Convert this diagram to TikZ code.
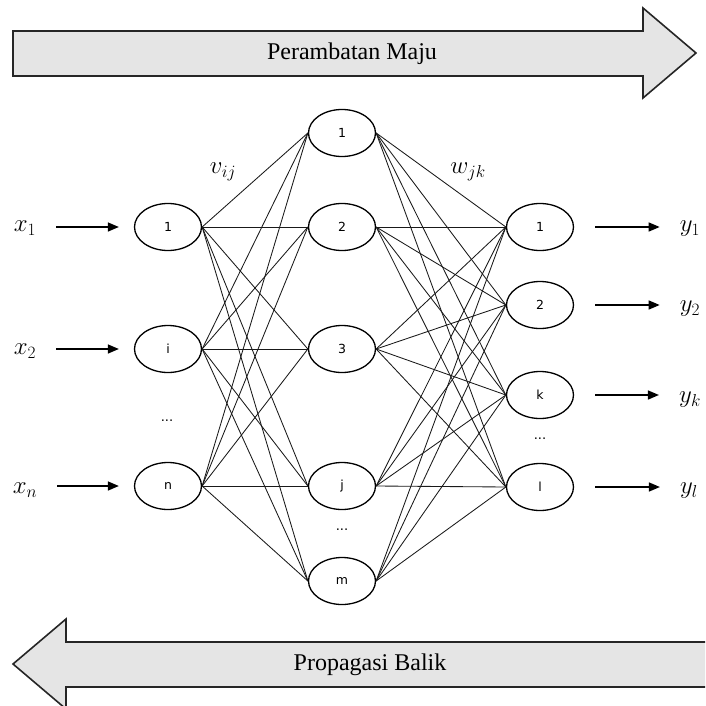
\documentclass[tikz,border=0pt]{standalone}
\usepackage{fontspec}
\setmainfont{Liberation Serif}
\newfontfamily\unitfont{DejaVu Sans}
\usetikzlibrary{shapes,arrows.meta,positioning}

\tikzset{
  unit/.style={draw, ellipse, line width=1.3pt, minimum width=67pt, minimum height=47pt, inner sep=0pt, font=\unitfont\fontsize{12.5}{14}\selectfont},
  link/.style={line width=0.85pt, black!90},
  inarrow/.style={-{Triangle[length=11pt,width=9pt]}, line width=1.5pt},
  bigarrow/.style={draw=black!85, fill=black!10, line width=1.6pt, line join=miter},
  bigtext/.style={inner sep=0pt, font=\fontsize{24}{28}\selectfont},
  lbl/.style={inner sep=0pt, font=\fontsize{23}{27}\selectfont},
  more/.style={font=\unitfont\fontsize{13}{15}\selectfont}
}

\begin{document}
\begin{tikzpicture}[x=1pt, y=-1pt]
\useasboundingbox (0,0) rectangle (705,706);
\clip (0,0) rectangle (705,706);

% Direction arrows
\draw[bigarrow] (13,31) -- (643,31) -- (643,8) -- (696,53) -- (643,98) -- (643,76) -- (13,76) -- cycle;
\node[bigtext] (fwd) at (352,54) {Perambatan Maju};
\draw[bigarrow] (720,642) -- (66,642) -- (66,619) -- (13,664) -- (66,709) -- (66,687) -- (720,687) -- cycle;
\node[bigtext] (back) at (370,665) {Propagasi Balik};

% Input layer
\node[unit] (in1) at (168,227) {1};
\node[unit] (ini) at (168,349) {i};
\node[unit] (inn) at (168,486) {n};
\node[more] (indots) at (167,421) {...};

% Hidden layer
\node[unit] (h1) at (342,133) {1};
\node[unit] (h2) at (342,227) {2};
\node[unit] (h3) at (342,349) {3};
\node[unit] (hj) at (342,486) {j};
\node[unit] (hm) at (342,581) {m};
\node[more] (hdots) at (342,530) {...};

% Output layer
\node[unit] (o1) at (540,227) {1};
\node[unit] (o2) at (540,305) {2};
\node[unit] (ok) at (540,395) {k};
\node[unit] (ol) at (540,487) {l};
\node[more] (odots) at (540,439) {...};

% Weights
\foreach \a in {in1,ini,inn}
  \foreach \b in {h1,h2,h3,hj,hm}
    \draw[link] (\a.east) -- (\b.west);
\foreach \a in {h1,h2,h3,hj,hm}
  \foreach \b in {o1,o2,ok,ol}
    \draw[link] (\a.east) -- (\b.west);

\node[lbl] (v) at (223,172) {$v_{ij}$};
\node[lbl] (w) at (468,172) {$w_{jk}$};

% Inputs and outputs
\node[lbl] (x1) at (25,228) {$x_1$};
\node[lbl] (x2) at (25,351) {$x_2$};
\node[lbl] (xn) at (25,490) {$x_n$};
\node[lbl] (y1) at (690,229) {$y_1$};
\node[lbl] (y2) at (690,309) {$y_2$};
\node[lbl] (yk) at (690,400) {$y_k$};
\node[lbl] (yl) at (689,491) {$y_l$};

\foreach \l/\n in {x1/in1,x2/ini,xn/inn}
  \draw[inarrow, shorten <=20pt, shorten >=15pt] (\l.east |- \n.west) -- (\n.west);
\foreach \n/\l in {o1/y1,o2/y2,ok/yk,ol/yl}
  \draw[inarrow, shorten <=21pt, shorten >=20pt] (\n.east) -- (\l.west |- \n.east);
\end{tikzpicture}
\end{document}
